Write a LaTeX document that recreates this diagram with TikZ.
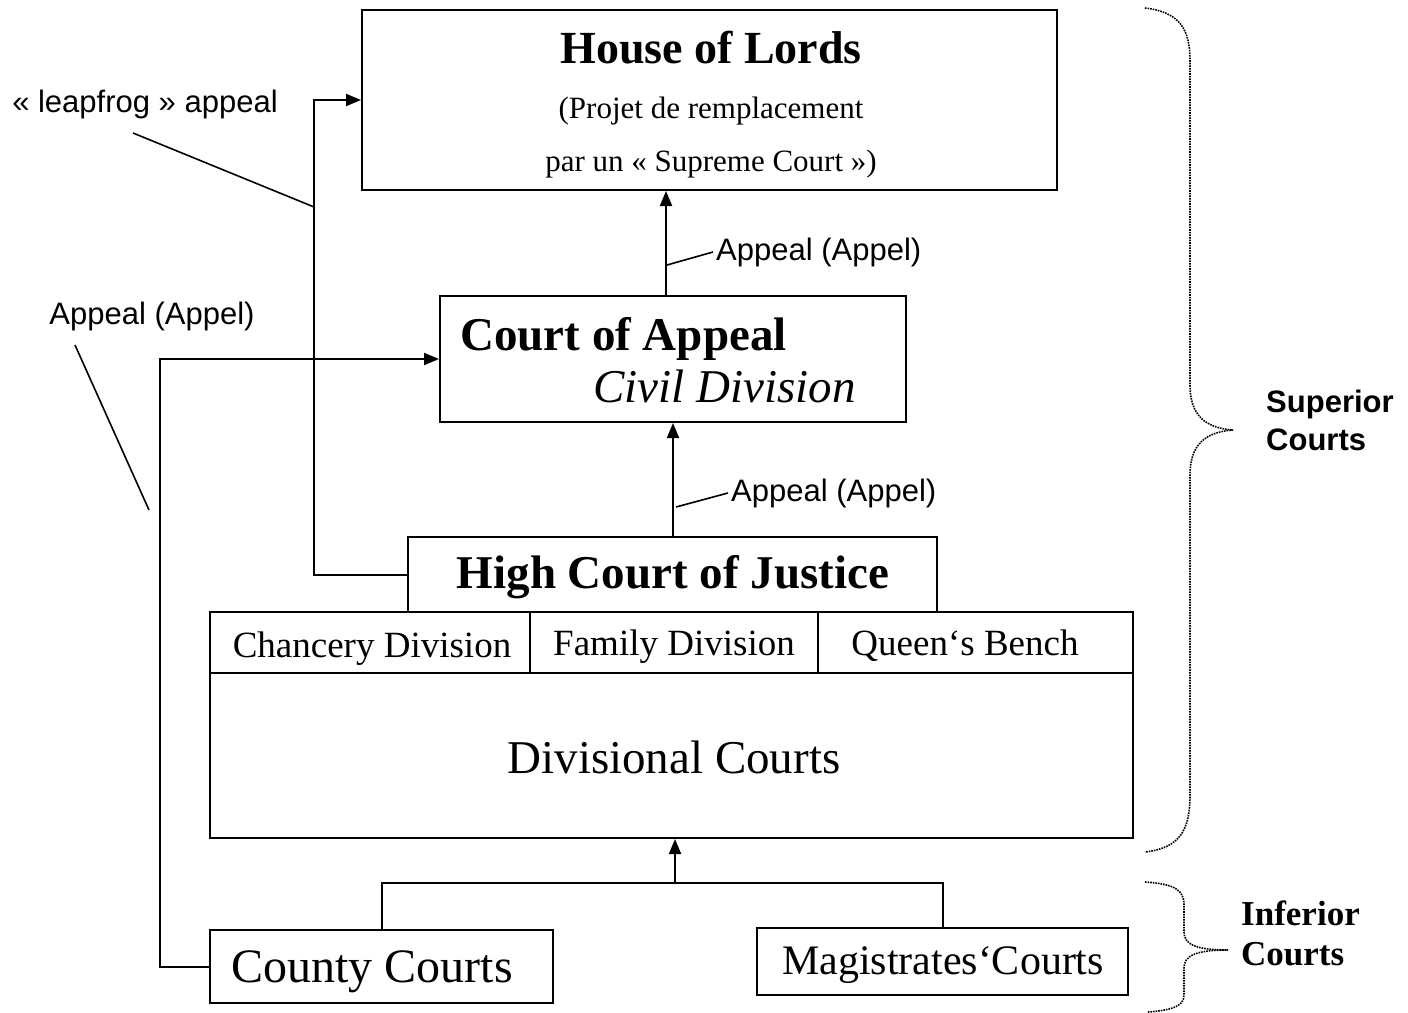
\documentclass[tikz,border=0pt]{standalone}
\usepackage{fontspec}
\setmainfont{Liberation Serif}
\newfontfamily\arialf{Liberation Sans}
\usetikzlibrary{arrows.meta}
\begin{document}
\begin{tikzpicture}[x=1pt,y=-1pt,
  box/.style={draw, line width=2pt, inner sep=0pt, rectangle},
  txt/.style={inner sep=0pt},
  conn/.style={line width=2pt},
  arr/.style={conn, -{Triangle[length=15pt,width=12pt]}},
  lead/.style={line width=1.6pt},
  brc/.style={line width=1.6pt, densely dotted},
  lab/.style={txt, font=\arialf\fontsize{31}{36}\selectfont},
]
\useasboundingbox (0,0) rectangle (1408,1012);
% boxes
\node[box, minimum width=695pt, minimum height=180pt] (hol) at (709.5,100) {};
\node[box, minimum width=466pt, minimum height=126pt] (coa) at (673,359) {};
\node[box, minimum width=529pt, minimum height=75pt] (hcj) at (672.5,574.5) {};
\node[box, minimum width=320pt, minimum height=61pt] (chd) at (370,642.5) {};
\node[box, minimum width=288pt, minimum height=61pt] (fam) at (674,642.5) {};
\node[box, minimum width=315pt, minimum height=61pt] (qb) at (975.5,642.5) {};
\node[box, minimum width=923pt, minimum height=165pt] (div) at (671.5,755.5) {};
\node[box, minimum width=343pt, minimum height=73pt] (cc) at (381.5,966.5) {};
\node[box, minimum width=371pt, minimum height=67pt] (mc) at (942.5,961.5) {};
% texts
\node[txt, font=\bfseries\fontsize{46}{50}\selectfont] (holt) at (711,48) {House of Lords};
\node[txt, font=\fontsize{31}{36}\selectfont] (holp) at (711,111) {(Projet de remplacement};
\node[txt, font=\fontsize{31}{36}\selectfont] (hols) at (711,164) {par un « Supreme Court »)};
\node[txt, anchor=west, font=\bfseries\fontsize{47}{50}\selectfont] (coat) at (460,339) {Court of Appeal};
\node[txt, anchor=east, font=\itshape\fontsize{47}{50}\selectfont] (coac) at (856,386) {Civil Division};
\node[txt, font=\bfseries\fontsize{47}{50}\selectfont] (hcjt) at (673,577) {High Court of Justice};
\node[txt, font=\fontsize{37}{40}\selectfont] (chdt) at (372,649) {Chancery Division};
\node[txt, font=\fontsize{37}{40}\selectfont] (famt) at (674,647) {Family Division};
\node[txt, font=\fontsize{37}{40}\selectfont] (qbt) at (965,646) {Queen‘s Bench};
\node[txt, font=\fontsize{47}{50}\selectfont] (divt) at (674,757) {Divisional Courts};
\node[txt, font=\fontsize{48}{50}\selectfont] (cct) at (372,972) {County Courts};
\node[txt, font=\fontsize{42}{46}\selectfont] (mct) at (943,965) {Magistrates‘Courts};
\node[txt, anchor=west, align=left, font=\arialf\bfseries\fontsize{31}{38}\selectfont] (sup) at (1266,420) {Superior\\Courts};
\node[txt, anchor=west, align=left, font=\bfseries\fontsize{35}{40}\selectfont] (inf) at (1241,933) {Inferior\\Courts};
% labels
\node[lab, anchor=west] (ap1) at (716,252) {Appeal (Appel)};
\node[lab, anchor=west] (ap2) at (731,493) {Appeal (Appel)};
\node[lab] (lfl) at (145,104) {« leapfrog » appeal};
\node[lab] (apl) at (152,316) {Appeal (Appel)};
% connectors
\coordinate (lf) at (314,0);
\coordinate (ca) at (160,0);
\coordinate (jn) at (675,883);
\draw[arr] (hcj.west) -- (hcj.west -| lf) |- (hol.west);
\draw[arr] (cc.west) -- (cc.west -| ca) |- (coa.west);
\draw[arr] ([xshift=-7pt]coa.north) -- ([xshift=-7pt]coa.north |- hol.south);
\draw[arr] (coa.south |- hcj.north) -- (coa.south);
\draw[arr] (jn) -- (jn |- div.south);
\draw[conn] (cc.north) |- (jn) -| (mc.north);
% leaders
\coordinate (l1a) at (667,265);
\coordinate (l2a) at (676,507);
\coordinate (l3a) at (133,133);
\coordinate (l3b) at (314,207);
\coordinate (l4a) at (75,345);
\coordinate (l4b) at (149,510);
\draw[lead] (l1a) -- ([xshift=-3pt]ap1.west);
\draw[lead] (l2a) -- ([xshift=-3pt]ap2.west);
\draw[lead] (l3a) -- (l3b);
\draw[lead] (l4a) -- (l4b);
% braces
\draw[brc] (1145,8) .. controls (1180,12) and (1190,30) .. (1190,60) -- (1190,385) .. controls (1190,415) and (1205,428) .. (1233,430) .. controls (1205,432) and (1190,445) .. (1190,475) -- (1190,795) .. controls (1190,830) and (1180,848) .. (1145,852);
\draw[brc] (1145,882) .. controls (1175,884) and (1184,890) .. (1184,905) -- (1184,932) .. controls (1184,944) and (1195,950) .. (1228,950) .. controls (1195,950) and (1184,956) .. (1184,968) -- (1184,995) .. controls (1184,1005) and (1175,1010) .. (1148,1012);
\end{tikzpicture}
\end{document}
